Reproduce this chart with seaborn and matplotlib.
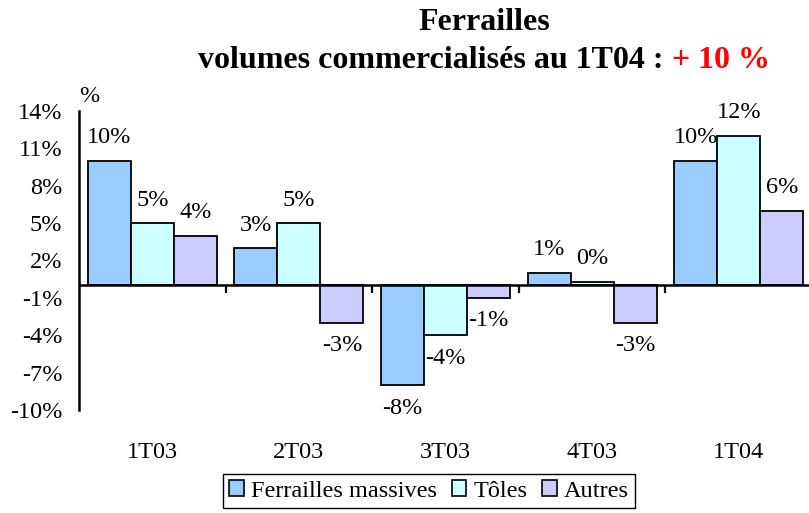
import matplotlib
matplotlib.use("Agg")
import matplotlib.pyplot as plt
import numpy as np
import pandas as pd
import seaborn as sns

quarters = ["1T03", "2T03", "3T03", "4T03", "1T04"]
series = ["Ferrailles massives", "Tôles", "Autres"]
massives = [10, 3, -8, 1, 10]
toles = [5, 5, -4, 0.3, 12]
autres = [4, -3, -1, -3, 6]
colors = ["#99CCFF", "#CCFFFF", "#CCCCFF"]
yticks = [-10, -7, -4, -1, 2, 5, 8, 11, 14]

df = pd.DataFrame({
    "trimestre": quarters * 3,
    "serie": [s for s in series for _ in quarters],
    "valeur": massives + toles + autres,
})

sns.set_style("white")
plt.rcParams["font.family"] = ["Liberation Serif", "DejaVu Serif"]
plt.rcParams["text.color"] = "black"
plt.rcParams["xtick.color"] = "black"
plt.rcParams["ytick.color"] = "black"
fs = 17.5

fig = plt.figure(figsize=(8.09, 5.13), dpi=100)
ax = fig.add_axes([79 / 809, 103 / 513, 733 / 809, 299 / 513])

sns.barplot(data=df, x="trimestre", y="valeur", hue="serie", order=quarters,
            hue_order=series, palette=colors, width=0.88, gap=0,
            edgecolor="black", linewidth=1.3, saturation=1, ax=ax)

# etiquettes de valeur (le 0.3 s'affiche "0%")
for cont, vals in zip(ax.containers, [massives, toles, autres]):
    ax.bar_label(cont, labels=[f"{round(v):d}%" for v in vals], padding=9,
                 fontsize=fs)

ax.set_ylim(-10, 14)
ax.set_xlim(-0.5, len(quarters) - 0.5)
ax.set_yticks(yticks)
ax.set_yticklabels([f"{t}%" for t in yticks], fontsize=fs)
ax.tick_params(axis="y", direction="out", length=7, width=1.6, color="black", pad=5)
ax.tick_params(axis="x", length=0, pad=23, labelsize=fs)
ax.set_xlabel("")
ax.set_ylabel("")

for side in ["top", "right", "bottom"]:
    ax.spines[side].set_visible(False)
ax.spines["left"].set_linewidth(1.8)
ax.spines["left"].set_color("black")
ax.axhline(0, color="black", linewidth=1.8, zorder=5)
bounds = np.arange(len(quarters) - 1) + 0.5
ax.vlines(bounds, -0.6, 0, color="black", linewidth=1.6, zorder=5)
ax.text(0.0, 1.015, "%", transform=ax.transAxes, fontsize=fs, ha="left", va="bottom")

fig.text(484 / 809, 1 - 22 / 513, "Ferrailles", fontsize=23, fontweight="bold",
         ha="center", va="center")
t1 = fig.text(198 / 809, 1 - 60 / 513, "volumes commercialisés au 1T04 : ", fontsize=23,
              fontweight="bold", ha="left", va="center")
fig.canvas.draw()
bb = t1.get_window_extent()
fig.text(bb.x1 / fig.bbox.width, 1 - 60 / 513, "+ 10 %", fontsize=23,
         fontweight="bold", color="red", ha="left", va="center")

ax.legend_.remove()
handles = [plt.Rectangle((0, 0), 1, 1, facecolor=c, edgecolor="black", linewidth=1.2)
           for c in colors]
fig.legend(handles, series, loc="center", bbox_to_anchor=(429 / 809, 22 / 513),
           ncol=3, fontsize=fs, frameon=True, fancybox=False, edgecolor="black",
           handlelength=0.6, handleheight=0.6, handletextpad=0.3, columnspacing=0.6,
           borderpad=0.25, framealpha=1)

fig.savefig("out.png", dpi=100)
